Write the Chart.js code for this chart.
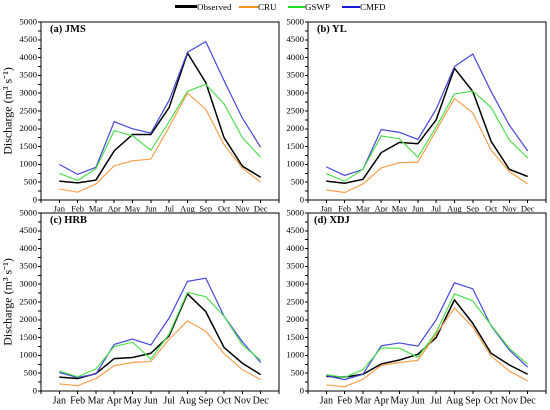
<!DOCTYPE html>
<html lang="en">
<head>
<meta charset="UTF-8">
<title>Monthly discharge</title>
<script src="https://cdn.jsdelivr.net/npm/chart.js"></script>
<style>
  body { margin: 0; background: #fff; font-family: 'Liberation Serif', serif; }
  #wrap { position: relative; width: 550px; height: 410px; overflow: hidden; }
  #wrap canvas { position: absolute; }
  .tag { position: absolute; font-weight: bold; font-size: 10.5px; line-height: 1; }
  .leg { position: absolute; top: 2px; font-size: 9px; line-height: 10px; white-space: nowrap; }
  .leg i { display: inline-block; vertical-align: middle; margin-top: -2px; }
</style>
</head>
<body>

<script>
// months on the x axis
const months = ['Jan','Feb','Mar','Apr','May','Jun','Jul','Aug','Sep','Oct','Nov','Dec'];
const yTicks = [0, 500, 1000, 1500, 2000, 2500, 3000, 3500, 4000, 4500, 5000];

// (a) JMS
const jmsObs  = [530, 480, 560, 1380, 1840, 1840, 2600, 4130, 3300, 1750, 950, 640];
const jmsCru  = [310, 220, 450, 960, 1100, 1150, 2050, 3000, 2550, 1550, 900, 500];
const jmsGswp = [750, 550, 880, 1950, 1800, 1400, 2200, 3050, 3250, 2700, 1750, 1200];
const jmsCmfd = [1000, 720, 920, 2200, 2000, 1880, 2800, 4150, 4450, 3350, 2300, 1480];

// (b) YL
const ylObs  = [530, 470, 580, 1330, 1620, 1580, 2250, 3700, 3050, 1650, 860, 660];
const ylCru  = [280, 210, 450, 900, 1050, 1060, 1950, 2850, 2450, 1400, 800, 450];
const ylGswp = [740, 530, 860, 1800, 1720, 1200, 2050, 2980, 3060, 2600, 1680, 1180];
const ylCmfd = [930, 690, 860, 1980, 1900, 1700, 2550, 3750, 4100, 3050, 2100, 1380];

// (c) HRB
const hrbObs  = [390, 350, 490, 910, 940, 1060, 1550, 2730, 2230, 1220, 780, 460];
const hrbCru  = [200, 150, 350, 710, 800, 830, 1450, 1970, 1680, 1050, 600, 320];
const hrbGswp = [560, 400, 620, 1250, 1370, 900, 1600, 2770, 2650, 2100, 1300, 860];
const hrbCmfd = [520, 380, 480, 1310, 1460, 1290, 2050, 3080, 3170, 2100, 1380, 800];

// (d) XDJ
const xdjObs  = [410, 390, 470, 760, 870, 1030, 1500, 2560, 1900, 1060, 730, 470];
const xdjCru  = [170, 120, 330, 720, 800, 860, 1600, 2330, 1800, 980, 560, 280];
const xdjGswp = [460, 380, 600, 1210, 1200, 950, 1650, 2730, 2530, 1850, 1200, 750];
const xdjCmfd = [430, 320, 470, 1270, 1350, 1260, 2000, 3040, 2870, 1830, 1150, 670];

const seriesNames = ['Observed', 'CRU', 'GSWP', 'CMFD'];
const colors = ['#000000', '#f7a04e', '#4fe04f', '#4646dc'];
const widths = [1.5, 1.2, 1.2, 1.2];
</script>

<div id="wrap">
  <canvas id="cA"></canvas>
  <canvas id="cB"></canvas>
  <canvas id="cC"></canvas>
  <canvas id="cD"></canvas>

  <div class="tag" style="left:50px;top:24px">(a) JMS</div>
  <div class="tag" style="left:317px;top:24px">(b) YL</div>
  <div class="tag" style="left:50px;top:215px">(c) HRB</div>
  <div class="tag" style="left:314px;top:215px">(d) XDJ</div>

  <div class="leg" style="left:175px"><i style="width:22px;height:3px;background:#000"></i>Observed</div>
  <div class="leg" style="left:239px"><i style="width:19px;height:1.5px;background:#f7941d"></i>CRU</div>
  <div class="leg" style="left:288px"><i style="width:17px;height:1.5px;background:#22dd22"></i>GSWP</div>
  <div class="leg" style="left:342px"><i style="width:18px;height:1.5px;background:#1a1ad0"></i>CMFD</div>
</div>

<script>
const serif = 'Liberation Serif';

// full box around the plot area
const boxPlugin = {
  id: 'box',
  afterDraw(chart) {
    const a = chart.chartArea;
    const ctx = chart.ctx;
    ctx.save();
    ctx.strokeStyle = '#000';
    ctx.lineWidth = 1;
    ctx.strokeRect(a.left, a.top, a.right - a.left, a.bottom - a.top);
    ctx.restore();
  }
};

function makePanel(id, pos, values, opts) {
  const el = document.getElementById(id);
  el.style.left = pos.left + 'px';
  el.style.top = pos.top + 'px';
  el.style.width = pos.width + 'px';
  el.style.height = pos.height + 'px';

  const datasets = values.map((vals, k) => ({
    label: seriesNames[k],
    data: vals.map((v, i) => ({ x: i + 1, y: v })),
    borderColor: colors[k],
    borderWidth: widths[k],
    pointRadius: 0,
    tension: 0,
    fill: false,
    order: k === 0 ? 4 : k
  }));

  return new Chart(el, {
    type: 'line',
    data: { datasets },
    plugins: [boxPlugin],
    options: {
      responsive: false,
      animation: false,
      devicePixelRatio: 2,
      layout: { padding: { top: 22, right: 4, left: 0, bottom: 0 } },
      plugins: { legend: { display: false }, tooltip: { enabled: false } },
      scales: {
        x: {
          type: 'linear',
          min: 0,
          max: 13,
          afterBuildTicks(s) { s.ticks = []; for (let i = 0; i <= 13; i++) s.ticks.push({ value: i }); },
          afterFit(s) { s.height = opts.xHeight; },
          ticks: {
            autoSkip: false,
            maxRotation: 0,
            padding: 1,
            color: '#000',
            font: { family: serif, size: opts.xFont },
            callback: v => months[v - 1] || ''
          },
          grid: { drawOnChartArea: false, tickLength: 3, color: '#000' },
          border: { color: '#000' }
        },
        y: {
          min: 0,
          max: 5000,
          afterBuildTicks(s) { s.ticks = []; for (let v = 0; v <= 5000; v += 250) s.ticks.push({ value: v }); },
          afterFit(s) { s.width = 41; },
          ticks: {
            autoSkip: false,
            padding: 1,
            color: '#000',
            font: { family: serif, size: 8.8 },
            callback: v => yTicks.includes(v) ? v : ''
          },
          grid: { drawOnChartArea: false, tickLength: 3, color: '#000' },
          border: { color: '#000' },
          title: {
            display: opts.yTitle,
            text: 'Discharge (m³ s⁻¹)',
            color: '#000',
            padding: { top: 1, bottom: 0 },
            font: { family: serif, size: 12 }
          }
        }
      }
    }
  });
}

makePanel('cA', { left: 0, top: 0, width: 283, height: 212 }, [jmsObs, jmsCru, jmsGswp, jmsCmfd], { xHeight: 12, xFont: 8.5, yTitle: true });
makePanel('cB', { left: 267, top: 0, width: 283, height: 212 }, [ylObs, ylCru, ylGswp, ylCmfd], { xHeight: 12, xFont: 8.5, yTitle: false });
makePanel('cC', { left: 0, top: 191, width: 283, height: 219 }, [hrbObs, hrbCru, hrbGswp, hrbCmfd], { xHeight: 19, xFont: 10, yTitle: true });
makePanel('cD', { left: 267, top: 191, width: 283, height: 219 }, [xdjObs, xdjCru, xdjGswp, xdjCmfd], { xHeight: 19, xFont: 10, yTitle: false });
</script>
</body>
</html>
